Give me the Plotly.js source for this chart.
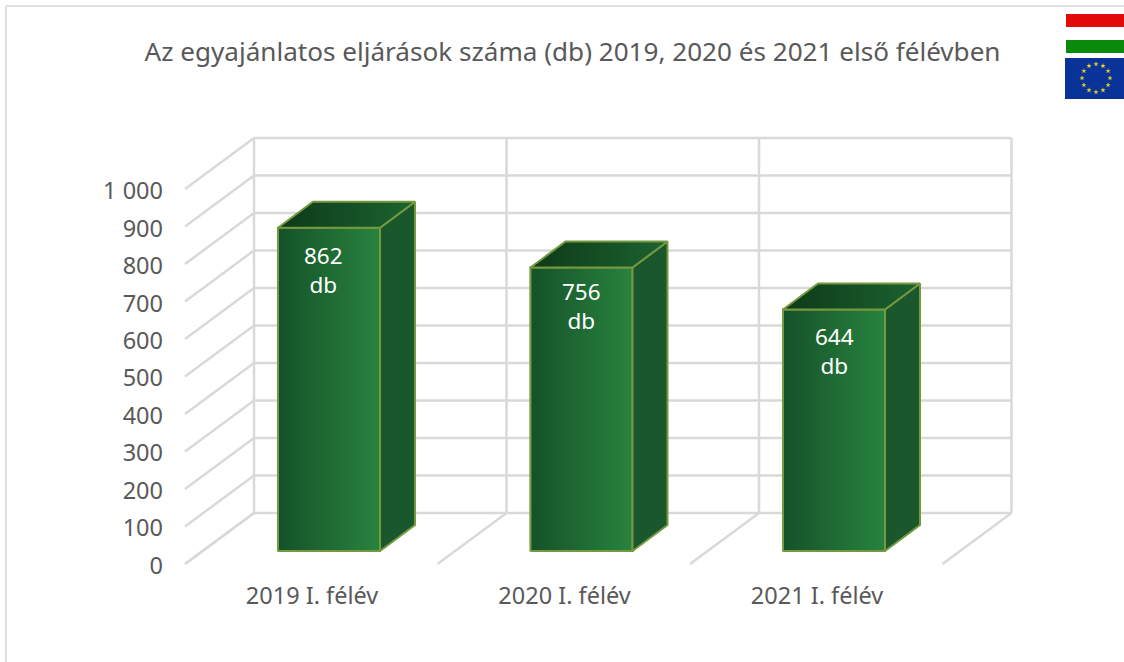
<!DOCTYPE html>
<html>
<head>
<meta charset="utf-8">
<script src="https://cdn.plot.ly/plotly-3.0.1.min.js"></script>
<style>html,body{margin:0;padding:0;background:#fff}#c{width:1124px;height:662px}</style>
</head>
<body>
<div id="c"></div>
<script>
const categories = ["2019 I. félév", "2020 I. félév", "2021 I. félév"];
const values = [862, 756, 644];
const valueUnit = "db";
const axisTicks = [0, 100, 200, 300, 400, 500, 600, 700, 800, 900, 1000];
const axisTickLabels = ["0", "100", "200", "300", "400", "500", "600", "700", "800", "900", "1 000"];
const chartTitle = "Az egyajánlatos eljárások száma (db) 2019, 2020 és 2021 első félévben";

/* scale of the drawing, in page pixels */
const W = 1124, H = 662;
const L = 175, R = 1124, T = 40, B = 574;
const xStep = 252.5, x0 = 312, yScale = 0.375, y0 = 551;
const labelAxisScale = 0.3745, labelAxisZero = 565.5;
const FONT = "Tahoma, 'Noto Sans', 'DejaVu Sans', sans-serif";
const GRID = "#d9d9d9", TEXT = "#595959", EDGE = "#76983f";

const dX = p => p / xStep;              // pixels -> x units
const dY = p => p / yScale;             // pixels -> value units
const px = p => (p - L) / (R - L);      // page x -> paper
const py = p => (B - p) / (B - T);      // page y -> paper

const barOffset = dX(278 - x0), barWidth = dX(102);
const depthX = dX(35), depthY = dY(26);
const wallX = dX(254 - x0), wallY = dY(551 - 513);
const sideX = dX(69), sideY = dY(51);

const shapes = [];
const gridLine = (x1, y1, x2, y2) => shapes.push({type: "line", layer: "below", xref: "x", yref: "y",
  x0: x1, y0: y1, x1: x2, y1: y2, line: {color: GRID, width: 2.5}});

/* back wall and left wall */
axisTicks.forEach(t => {
  gridLine(wallX, t + wallY, wallX + categories.length, t + wallY);
  gridLine(wallX, t + wallY, wallX - sideX, t + wallY - sideY);
});
/* verticals and floor lines */
for (let i = 0; i <= categories.length; i++) {
  gridLine(wallX + i, wallY, wallX + i, 1000 + wallY);
  gridLine(wallX + i, wallY, wallX + i - sideX, wallY - sideY);
}

/* chart frame */
const paperLine = (a, b, c, d) => shapes.push({type: "line", layer: "below", xref: "paper", yref: "paper",
  x0: px(a), y0: py(b), x1: px(c), y1: py(d), line: {color: "#e0e0e0", width: 2}});
paperLine(6, 6, W, 6);
paperLine(6, 6, 6, H);

/* flags */
const paperRect = (a, b, c, d, color) => shapes.push({type: "rect", layer: "below", xref: "paper", yref: "paper",
  x0: px(a), y0: py(b), x1: px(c), y1: py(d), fillcolor: color, line: {width: 0}});
paperRect(1066, 14, 1124, 27, "#e30a0a");
paperRect(1066, 27, 1124, 40, "#ffffff");
paperRect(1066, 40, 1124, 53, "#0a8a0a");
paperRect(1065, 58, 1124, 99, "#0a3399");

const traces = [];
traces.push({type: "bar", x: categories.map((_, i) => i), y: values, offset: barOffset, width: barWidth,
  marker: {color: "#1f6c35", line: {color: EDGE, width: 1.5}}, hoverinfo: "skip", showlegend: false, xaxis: "x", yaxis: "y"});

categories.forEach((_, i) => {
  const a = i + barOffset, b = a + barWidth, v = values[i];
  const face = (xs, ys, gradient, color) => traces.push({type: "scatter", mode: "lines", fill: "toself",
    x: xs, y: ys, line: {color: EDGE, width: 2}, hoverinfo: "skip", showlegend: false,
    fillcolor: color, fillgradient: gradient, xaxis: "x", yaxis: "y"});
  face([a, b, b, a, a], [0, 0, v, v, 0],
    {type: "horizontal", colorscale: [[0, "#14512a"], [0.25, "#1a5e2e"], [1, "#28833f"]]});
  face([b, b + depthX, b + depthX, b, b], [0, depthY, v + depthY, v, 0], undefined, "#1a572c");
  face([a, b, b + depthX, a + depthX, a], [v, v, v + depthY, v + depthY, v],
    {type: "horizontal", colorscale: [[0, "#0d3a18"], [1, "#1c6331"]]});
});

/* invisible trace that keeps the value-label axis on the page */
traces.push({type: "scatter", mode: "none", x: axisTicks.map(() => 0), y: axisTicks, hoverinfo: "skip", showlegend: false, xaxis: "x", yaxis: "y2"});

/* EU stars */
const starX = [], starY = [];
for (let k = 0; k < 12; k++) {
  const ang = k * Math.PI / 6;
  starX.push(dX(1096 + 14 * Math.sin(ang) - x0));
  starY.push(dY(y0 - (78 - 14 * Math.cos(ang))));
}
traces.push({type: "scatter", mode: "markers", x: starX, y: starY, cliponaxis: false, hoverinfo: "skip", showlegend: false,
  marker: {symbol: "star", size: 4, color: "#e8cf2a", line: {width: 0}}, xaxis: "x", yaxis: "y"});

/* data labels: horizontal nudge and drop below the bar top */
const labelNudge = [-5.5, 0, 0];
const labelDrop = [10.5, 6, 9];
const annotations = values.map((v, i) => ({
  x: i + barOffset + barWidth / 2, y: v, xref: "x", yref: "y",
  text: v + "<br>" + valueUnit, showarrow: false, xanchor: "center", yanchor: "top",
  xshift: labelNudge[i], yshift: -labelDrop[i], align: "center",
  font: {family: FONT, size: 22.5, color: "#ffffff"}
}));

const layout = {
  width: W, height: H, paper_bgcolor: "#ffffff", plot_bgcolor: "rgba(0,0,0,0)",
  margin: {l: L, r: W - R, t: T, b: H - B, pad: 0, autoexpand: false},
  showlegend: false, barmode: "overlay",
  title: {text: chartTitle, x: 572.5 / W, xanchor: "center", y: 1 - 51.5 / H, yanchor: "middle", yref: "container", xref: "container",
    font: {family: FONT, size: 26.1, color: TEXT}},
  xaxis: {range: [(L - x0) / xStep, (R - x0) / xStep], tickmode: "array", tickvals: categories.map((_, i) => i), ticktext: categories,
    showgrid: false, zeroline: false, showline: false, ticks: "", ticklabelstandoff: 5,
    tickfont: {family: FONT, size: 23.5, color: TEXT}, fixedrange: true},
  yaxis: {range: [(y0 - B) / yScale, (y0 - T) / yScale], showgrid: false, zeroline: false, showline: false, showticklabels: false, ticks: "", fixedrange: true},
  yaxis2: {overlaying: "y", anchor: "x", side: "left",
    range: [(labelAxisZero - B) / labelAxisScale, (labelAxisZero - T) / labelAxisScale],
    tickmode: "array", tickvals: axisTicks, ticktext: axisTickLabels, showgrid: false, zeroline: false, showline: false, ticks: "",
    ticklabelstandoff: 11, tickfont: {family: FONT, size: 23.5, color: TEXT}, fixedrange: true},
  shapes, annotations
};
Plotly.newPlot("c", traces, layout, {displayModeBar: false, staticPlot: true});
</script>
</body>
</html>
